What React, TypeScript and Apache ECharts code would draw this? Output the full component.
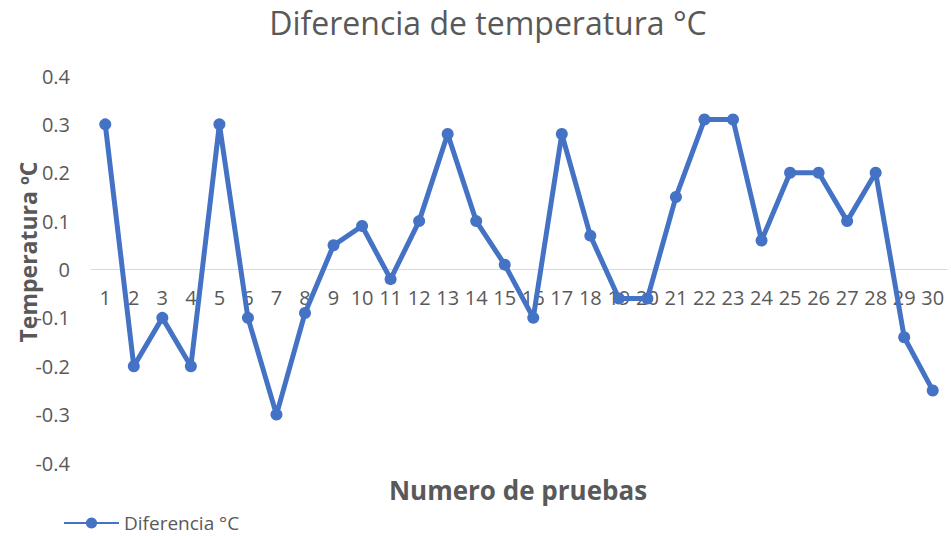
import React, { useEffect, useRef } from "react";
import * as echarts from "echarts";

const categories = Array.from({ length: 30 }, (_, i) => String(i + 1));
const diferencia = [
  0.3, -0.2, -0.1, -0.2, 0.3, -0.1, -0.3, -0.09, 0.05, 0.09,
  -0.02, 0.1, 0.28, 0.1, 0.01, -0.1, 0.28, 0.07, -0.06, -0.06,
  0.15, 0.31, 0.31, 0.06, 0.2, 0.2, 0.1, 0.2, -0.14, -0.25,
];
const titleText = "Diferencia de temperatura °C";
const seriesName = "Diferencia °C";
const yName = "Temperatura ºC";
const xName = "Numero de pruebas";

const FONT = "'Open Sans', 'Noto Sans', sans-serif";
const GREY = "#595959";
const BLUE = "#4472C4";

export default function App() {
  const ref = useRef<HTMLDivElement>(null);
  useEffect(() => {
    if (!ref.current) return;
    const chart = echarts.init(ref.current, undefined, { renderer: "svg" });
    const gridTop = 76;
    const gridBottom = 73;
    const plotH = 536 - gridTop - gridBottom;
    chart.setOption({
      animation: false,
      textStyle: { fontFamily: FONT },
      title: {
        text: titleText,
        left: 483,
        top: 1,
        textAlign: "center",
        textStyle: { fontSize: 32, fontWeight: "normal", color: GREY, fontFamily: FONT },
      },
      legend: {
        left: 63,
        top: 513,
        padding: 0,
        itemWidth: 55,
        itemHeight: 14,
        data: [{ name: seriesName }],
        textStyle: { fontSize: 19, lineHeight: 20, color: GREY, fontFamily: FONT },
      },
      grid: {
        left: 91,
        right: 4,
        top: gridTop,
        bottom: gridBottom,
        containLabel: false,
        outerBoundsMode: "none",
      },
      xAxis: {
        type: "category",
        data: categories,
        boundaryGap: true,
        offset: -plotH / 2,
        axisLine: { onZero: false, lineStyle: { color: "#d9d9d9", width: 1 } },
        axisTick: { show: false },
        axisLabel: { color: GREY, fontSize: 20, margin: 18, interval: 0, fontFamily: FONT },
        splitLine: { show: false },
      },
      yAxis: {
        type: "value",
        min: -0.4,
        max: 0.4,
        interval: 0.1,
        axisLine: { show: false },
        axisTick: { show: false },
        splitLine: { show: false },
        axisLabel: {
          color: GREY,
          fontSize: 20,
          margin: 21,
          fontFamily: FONT,
          formatter: (v: number) => {
            const r = Math.round(v * 10) / 10;
            return r === 0 ? "0" : String(r);
          },
        },
      },
      graphic: [
        {
          type: "text",
          x: 518,
          y: 490,
          style: {
            text: xName,
            fontSize: 26,
            fontWeight: "bold",
            fill: GREY,
            fontFamily: FONT,
            align: "center",
            verticalAlign: "middle",
          },
        },
        {
          type: "text",
          x: 28,
          y: 252,
          rotation: Math.PI / 2,
          style: {
            text: yName,
            fontSize: 23,
            fontWeight: "bold",
            fill: GREY,
            fontFamily: FONT,
            align: "center",
            verticalAlign: "middle",
          },
        },
      ],
      series: [
        {
          name: seriesName,
          type: "line",
          data: diferencia,
          symbol: "circle",
          symbolSize: 12,
          lineStyle: { color: BLUE, width: 5 },
          itemStyle: { color: BLUE },
        },
      ],
    });
    return () => chart.dispose();
  }, []);
  return <div ref={ref} style={{ width: 951, height: 536, position: "absolute", left: 0, top: 0 }} />;
}
